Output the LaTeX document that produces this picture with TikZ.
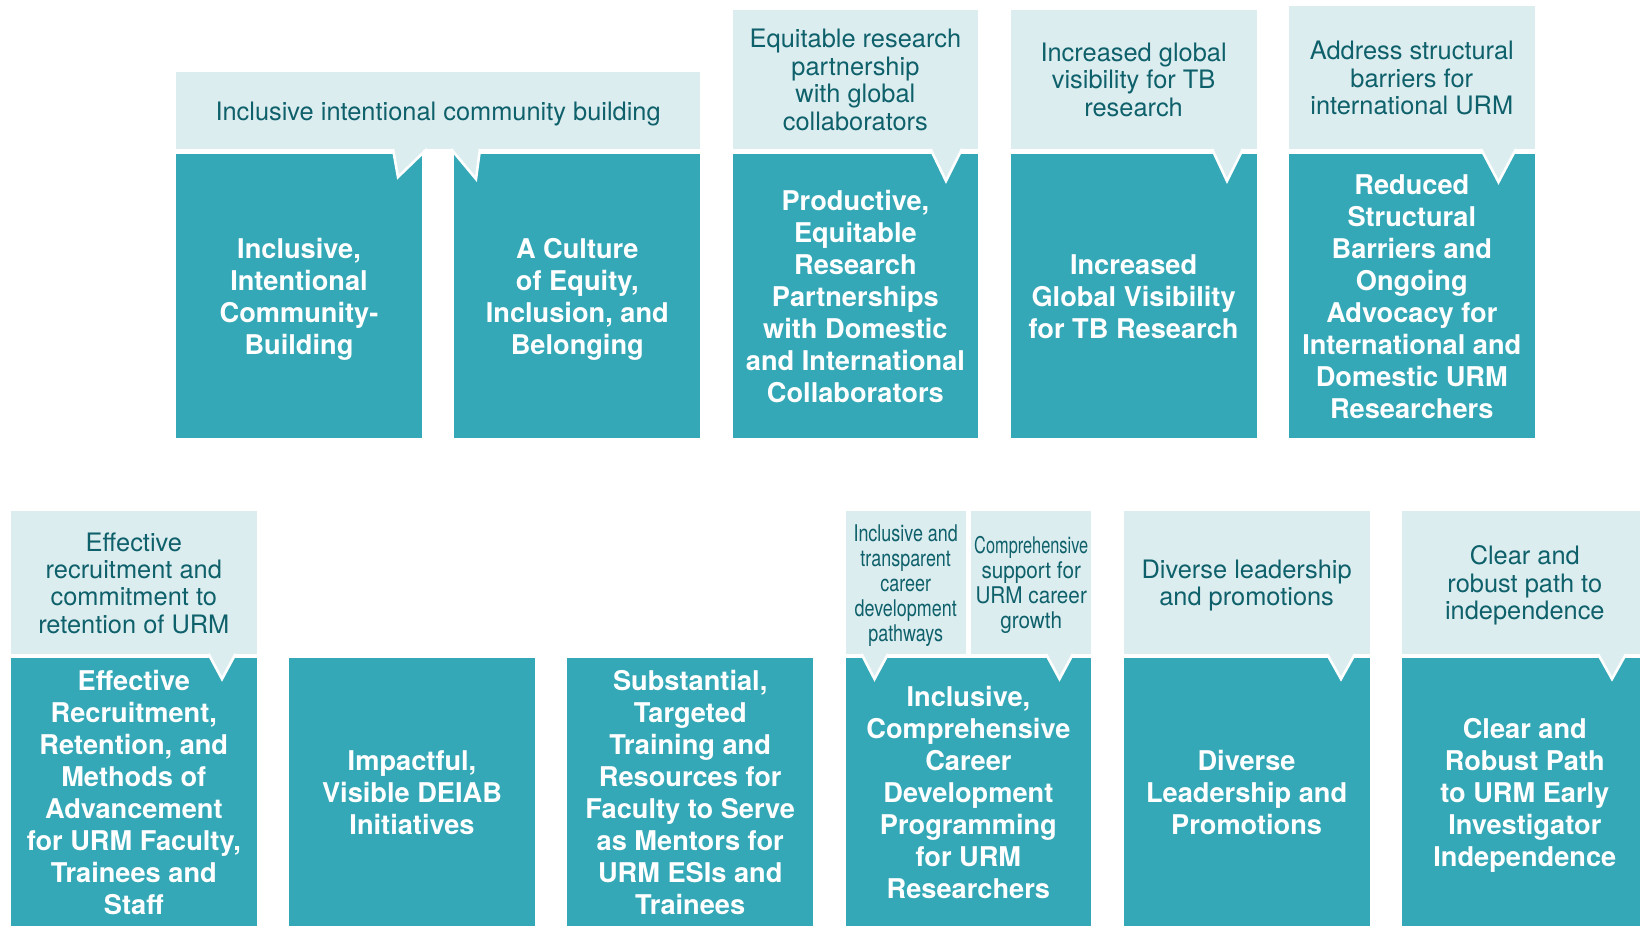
\documentclass[tikz,border=0pt]{standalone}
\usepackage{fontspec}
\setmainfont{TeX Gyre Heros}
\newfontfamily\condA[FakeStretch=0.78]{TeX Gyre Heros}
\newfontfamily\condB[FakeStretch=0.9]{TeX Gyre Heros}
\newfontfamily\condC[FakeStretch=0.71]{TeX Gyre Heros}
\definecolor{darkc}{RGB}{52,168,183}
\definecolor{lightc}{RGB}{220,237,240}
\definecolor{ltext}{RGB}{14,96,106}
\tikzset{
  dbox/.style={rectangle, fill=darkc, inner sep=0pt, anchor=north west,
    minimum width=122.9pt, align=center, text=white, text depth=0pt,
    font=\fontsize{13.6}{16.0}\selectfont\bfseries},
  dtop/.style={dbox, minimum height=141.75pt},
  dbot/.style={dbox, minimum height=134pt},
  lbox/.style={rectangle, fill=lightc, inner sep=0pt, anchor=north west,
    minimum width=122.9pt, align=center, text=ltext, text depth=0pt,
    font=\fontsize{12.7}{13.7}\selectfont},
  cbox/.style={lbox, minimum width=60.2pt, minimum height=71.5pt,
    font=\fontsize{11.5}{12.5}\selectfont},
  notchfill/.style={fill=lightc},
  notchline/.style={draw=white, line width=1.3pt, line join=miter},
}
\begin{document}
\begin{tikzpicture}[x=0.5pt,y=-0.5pt]
\useasboundingbox (0,0) rectangle (1640,926);

% ---------- top row: dark boxes ----------
\node[dtop] (t1) at (175.7,154) {Inclusive,\\Intentional\\Community-\\Building};
\node[dtop] (t2) at (454,154) {A Culture\\of Equity,\\Inclusion, and\\Belonging};
\node[dtop] (t3) at (732.1,154) {Productive,\\Equitable\\Research\\Partnerships\\with Domestic\\and International\\Collaborators};
\node[dtop] (t4) at (1010.3,154) {Increased\\Global Visibility\\for TB Research};
\node[dtop] (t5) at (1288.5,154) {Reduced\\Structural\\Barriers and\\Ongoing\\Advocacy for\\International and\\Domestic URM\\Researchers};

% ---------- top row: light boxes ----------
\node[lbox, minimum width=262pt, minimum height=38.5pt] (l1) at (175.7,72) {Inclusive intentional community building};
\node[lbox, minimum height=69.75pt] (l3) at (732.1,9.5) {Equitable research\\partnership\\with global\\collaborators};
\node[lbox, minimum height=69.75pt] (l4) at (1010.3,9.5) {Increased global\\visibility for TB\\research};
\node[lbox, minimum height=71.5pt] (l5) at (1288.5,6) {Address structural\\barriers for\\international URM};

% ---------- top row: notches ----------
\fill[notchfill] (393,148.5) -- (398,177) -- (427,148.5) -- cycle;
\draw[notchline] (393,149) -- (398,177) -- (427,149);
\fill[notchfill] (451,148.5) -- (476,179) -- (480,148.5) -- cycle;
\draw[notchline] (451,149) -- (476,179) -- (480,149);
\fill[white] (422.6,150) rectangle (453.9,200);
\fill[notchfill] (930.5,148.5) -- (946,181) -- (962,148.5) -- cycle;
\draw[notchline] (930.5,149) -- (946,181) -- (962,149);
\fill[notchfill] (1212,148.5) -- (1227,181) -- (1243,148.5) -- cycle;
\draw[notchline] (1212,149) -- (1227,181) -- (1243,149);
\fill[notchfill] (1481,148.5) -- (1498.5,182) -- (1516,148.5) -- cycle;
\draw[notchline] (1481,149) -- (1498.5,182) -- (1516,149);

% ---------- bottom row: dark boxes ----------
\node[dbot] (b1) at (10.5,658) {Effective\\Recruitment,\\Retention, and\\Methods of\\Advancement\\for URM Faculty,\\Trainees and\\Staff};
\node[dbot] (b2) at (288.7,658) {Impactful,\\Visible DEIAB\\Initiatives};
\node[dbot] (b3) at (566.9,658) {Substantial,\\Targeted\\Training and\\Resources for\\Faculty to Serve\\as Mentors for\\URM ESIs and\\Trainees};
\node[dbot] (b4) at (845.1,658) {Inclusive,\\Comprehensive\\Career\\Development\\Programming\\for URM\\Researchers};
\node[dbot] (b5) at (1123.3,658) {Diverse\\Leadership and\\Promotions};
\node[dbot] (b6) at (1401.5,658) {Clear and\\Robust Path\\to URM Early\\Investigator\\Independence};

% ---------- bottom row: light boxes ----------
\node[lbox, minimum height=71.5pt] (m1) at (10.5,511) {Effective\\recruitment and\\commitment to\\retention of URM};
\node[cbox, font=\fontsize{11.5}{12.5}\condA] (m4a) at (845.1,511) {Inclusive and\\transparent\\career\\development\\pathways};
\node[cbox, font=\fontsize{11.5}{12.5}\condB] (m4b) at (970.6,511) {{\condC Comprehensive}\\support for\\URM career\\growth};
\node[lbox, minimum height=71.5pt] (m5) at (1123.3,511) {Diverse leadership\\and promotions};
\node[lbox, minimum height=71.5pt] (m6) at (1401.5,511) {Clear and\\robust path to\\independence};

% ---------- bottom row: notches ----------
\fill[notchfill] (208.5,653.5) -- (222,679) -- (235.5,653.5) -- cycle;
\draw[notchline] (208.5,654) -- (222,679) -- (235.5,654);
\fill[notchfill] (861.5,653.5) -- (874.5,679) -- (888,653.5) -- cycle;
\draw[notchline] (861.5,654) -- (874.5,679) -- (888,654);
\fill[notchfill] (1046,653.5) -- (1059.5,679) -- (1073,653.5) -- cycle;
\draw[notchline] (1046,654) -- (1059.5,679) -- (1073,654);
\fill[notchfill] (1327,653.5) -- (1341,679) -- (1355,653.5) -- cycle;
\draw[notchline] (1327,654) -- (1341,679) -- (1355,654);
\fill[notchfill] (1598,653.5) -- (1612,679) -- (1626,653.5) -- cycle;
\draw[notchline] (1598,654) -- (1612,679) -- (1626,654);
\end{tikzpicture}
\end{document}
